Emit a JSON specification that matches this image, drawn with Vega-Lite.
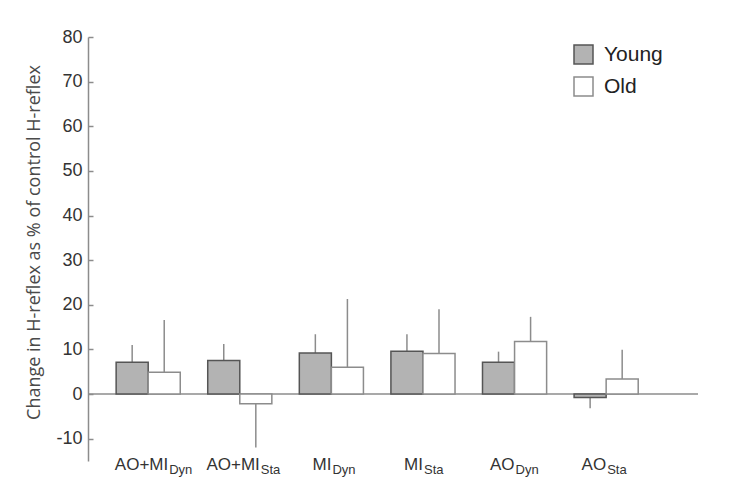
{
  "$schema": "https://vega.github.io/schema/vega-lite/v6.json",
  "width": 610,
  "height": 424,
  "autosize": "none",
  "padding": {"left": 88, "top": 37, "right": 33, "bottom": 25},
  "background": "white",
  "config": {"view": {"stroke": null}, "font": "Liberation Sans"},
  "datasets": {
    "bars": [
      {"cond": "AO+MI Dyn", "age": "Young", "mean": 7.1, "tip": 11.0},
      {"cond": "AO+MI Dyn", "age": "Old", "mean": 4.9, "tip": 16.6},
      {"cond": "AO+MI Sta", "age": "Young", "mean": 7.5, "tip": 11.2},
      {"cond": "AO+MI Sta", "age": "Old", "mean": -2.2, "tip": -12.0},
      {"cond": "MI Dyn", "age": "Young", "mean": 9.2, "tip": 13.4},
      {"cond": "MI Dyn", "age": "Old", "mean": 6.0, "tip": 21.3},
      {"cond": "MI Sta", "age": "Young", "mean": 9.6, "tip": 13.4},
      {"cond": "MI Sta", "age": "Old", "mean": 9.1, "tip": 19.0},
      {"cond": "AO Dyn", "age": "Young", "mean": 7.1, "tip": 9.5},
      {"cond": "AO Dyn", "age": "Old", "mean": 11.8, "tip": 17.3},
      {"cond": "AO Sta", "age": "Young", "mean": -0.8, "tip": -3.2},
      {"cond": "AO Sta", "age": "Old", "mean": 3.4, "tip": 9.9}
    ],
    "labels": [
      {"cond": "AO+MI Dyn", "main": "AO+MI", "sub": "Dyn"},
      {"cond": "AO+MI Sta", "main": "AO+MI", "sub": "Sta"},
      {"cond": "MI Dyn", "main": "MI", "sub": "Dyn"},
      {"cond": "MI Sta", "main": "MI", "sub": "Sta"},
      {"cond": "AO Dyn", "main": "AO", "sub": "Dyn"},
      {"cond": "AO Sta", "main": "AO", "sub": "Sta"}
    ]
  },
  "layer": [
    {
      "data": {"name": "bars"},
      "mark": {"type": "rule", "strokeWidth": 1.5, "color": "#8c8c8c"},
      "encoding": {
        "x": {"field": "cond", "type": "nominal", "sort": null, "axis": null,
              "scale": {"domain": ["AO+MI Dyn", "AO+MI Sta", "MI Dyn", "MI Sta", "AO Dyn", "AO Sta"], "paddingInner": 0.3, "paddingOuter": 0.48, "align": 0.32}},
        "xOffset": {"field": "age", "type": "nominal", "scale": {"domain": ["Young", "Old"], "paddingInner": 0, "paddingOuter": 0}},
        "y": {"field": "mean", "type": "quantitative"},
        "y2": {"field": "tip"}
      }
    },
    {
      "data": {"values": [{}]},
      "mark": {"type": "rule", "strokeWidth": 1.5, "color": "#8c8c8c"},
      "encoding": {"y": {"datum": 0}}
    },
    {
      "data": {"name": "bars"},
      "mark": {"type": "bar", "strokeWidth": 1.5},
      "encoding": {
        "x": {"field": "cond", "type": "nominal", "sort": null, "axis": null},
        "xOffset": {"field": "age", "type": "nominal"},
        "y": {"field": "mean", "type": "quantitative",
              "scale": {"domain": [-15, 80], "nice": false, "zero": false},
              "axis": {"values": [-10, 0, 10, 20, 30, 40, 50, 60, 70, 80], "grid": false,
                       "labelExpr": "'' + datum.value",
                       "title": "Change in H-reflex as % of control H-reflex",
                       "titleFont": "Open Sans", "titleFontSize": 18, "titleFontWeight": "normal", "titleColor": "#4a4a4a", "titlePadding": 12, "titleY": 205,
                       "labelFontSize": 18, "labelColor": "#333333", "labelPadding": 11,
                       "domainColor": "#8c8c8c", "domainWidth": 1.5, "tickColor": "#8c8c8c", "tickWidth": 1.5, "tickSize": -5}},
        "y2": {"datum": 0},
        "fill": {"field": "age", "type": "nominal", "scale": {"domain": ["Young", "Old"], "range": ["#b3b3b3", "#ffffff"]},
                 "legend": {"title": null, "orient": "none", "legendX": 485, "legendY": 7, "symbolType": "square", "symbolSize": 361,
                            "symbolStrokeWidth": 1.5, "labelFontSize": 21, "labelColor": "#222222", "rowPadding": 7, "labelOffset": 10, "padding": 0}},
        "stroke": {"field": "age", "type": "nominal", "scale": {"domain": ["Young", "Old"], "range": ["#555555", "#8c8c8c"]}, "legend": null}
      }
    },
    {
      "data": {"name": "labels"},
      "mark": {"type": "text", "align": "right", "baseline": "alphabetic", "fontSize": 17, "color": "#333333",
               "dx": {"expr": "datum.main == 'AO+MI' ? 20 : 0"}},
      "encoding": {
        "x": {"field": "cond", "type": "nominal", "sort": null, "axis": null},
        "y": {"datum": -17.0},
        "text": {"field": "main"}
      }
    },
    {
      "data": {"name": "labels"},
      "mark": {"type": "text", "align": "left", "baseline": "alphabetic", "fontSize": 13, "color": "#333333", "dy": 4,
               "dx": {"expr": "datum.main == 'AO+MI' ? 21 : 1"}},
      "encoding": {
        "x": {"field": "cond", "type": "nominal", "sort": null, "axis": null},
        "y": {"datum": -17.0},
        "text": {"field": "sub"}
      }
    }
  ]
}
